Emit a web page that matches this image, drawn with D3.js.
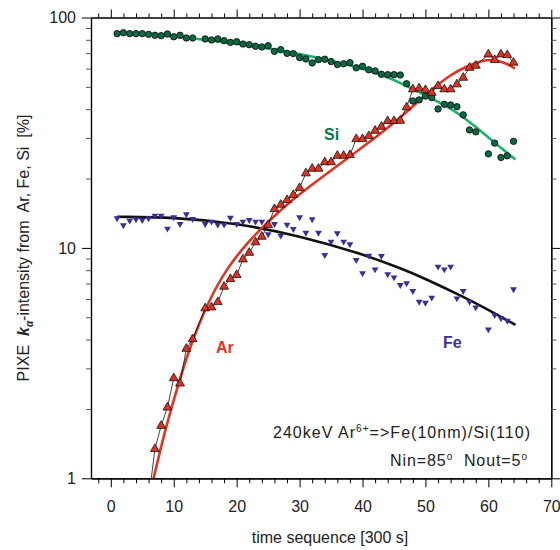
<!DOCTYPE html>
<html>
<head>
<meta charset="utf-8">
<script src="https://cdn.jsdelivr.net/npm/d3@7"></script>
<style>
  body { margin: 0; background: #fff; }
  text { font-family: "Liberation Sans", Arial, sans-serif; }
</style>
</head>
<body>
<svg id="chart" width="560" height="550"></svg>
<script>
// === Data ===
// time steps (t = 14 and t = 59 are missing in every series)
var timeSeq = [1, 2, 3, 4, 5, 6, 7, 8, 9, 10, 11, 12, 13,
    15, 16, 17, 18, 19, 20, 21, 22, 23, 24, 25, 26, 27, 28, 29, 30, 31, 32, 33, 34, 35, 36,
    37, 38, 39, 40, 41, 42, 43, 44, 45, 46, 47, 48, 49, 50, 51, 52, 53, 54, 55, 56, 57, 58,
    60, 61, 62, 63, 64];

var siValues = [85.1, 85.9, 85.1, 85.1, 85.1, 84.5, 83.7, 83.4, 84.8, 82.5, 83.7, 81.5, 81.5,
    80.7, 79.9, 80.7, 79.3, 78.0, 78.5, 76.7, 76.2, 75.0, 74.5, 75.4, 71.3, 72.5, 69.9, 69.7, 67.0,
    66.1, 63.5, 65.6, 65.9, 64.4, 62.5, 63.0, 63.7, 60.5, 61.4, 59.3, 58.6, 56.7, 56.5, 56.5, 56.3,
    51.6, 43.4, 43.9, 45.6, 44.9, 40.1, 42.0, 41.7, 41.0, 37.8, 32.5, 31.9,
    25.6, 28.5, 24.7, 25.1, 29.0];

var feValues = [13.44, 12.54, 13.13, 13.31, 13.22, 13.44, 13.80, 13.80, 12.12, 13.58, 12.70, 13.99, 13.35,
    12.70, 13.00, 12.61, 12.61, 13.52, 12.70, 13.00, 13.22, 13.00, 13.00, 11.46, 12.70, 11.30, 12.61,
    12.08, 13.58, 11.64, 13.31, 11.64, 9.31, 10.64, 11.57, 10.64, 10.37, 8.86, 7.76, 9.25, 8.07, 9.22,
    7.68, 7.45, 6.90, 7.02, 6.50, 5.84, 5.78, 6.08, 8.29, 8.07, 8.29, 6.04, 6.50, 5.84, 5.52,
    4.43, 5.11, 4.95, 4.83, 6.61];

// Ar starts at t = 6 (that first point lies below the axis)
var arTime = timeSeq.slice(5);
var arValues = [0.8, 1.34, 1.69, 2.03, 2.72, 2.58, 3.65, 4.02,
    5.47, 5.52, 5.82, 6.79, 7.33, 7.63, 8.92, 9.53, 10.58, 11.19, 12.57, 14.75, 15.40, 16.14, 16.97,
    18.2, 21.08, 22.07, 22.07, 23.55, 23.55, 25.13, 25.13, 25.31, 29.69, 29.69, 30.59, 32.26, 33.57,
    35.54, 35.54, 35.65, 40.76, 48.81, 49.29, 48.45, 47.16, 50.43, 48.81, 48.81, 51.30, 54.8, 60.5, 61.8,
    69.2, 65.4, 69.2, 68.7, 63.7];

// fitted curves
var siFitT = [1, 7, 14, 22, 29.7, 38.1, 43.4, 47.6, 50.3, 54, 56.6, 59.3, 62, 64.3];
var siFitV = [86, 84.3, 80.7, 75.8, 70, 62.2, 56.3, 49.6, 45.5, 40.4, 35.9, 31.4, 27.1, 24.2];

var arFitT = [6.3, 6.8, 8.5, 10, 12.2, 15.4, 18.5, 21.9, 25, 29, 35.4, 40.7, 46, 48.6, 51.3, 53.9, 56.6, 59.2, 60.8, 63, 64.2];
var arFitV = [0.88, 1.0, 1.57, 2.19, 3.5, 5.82, 8.22, 10.7, 13.0, 16.4, 22.1, 28.2, 36.7, 42.7, 49.5, 56.2, 61.7, 65.2, 65.8, 63.1, 60.0];

var feFitT = [1, 10, 20, 30, 40, 46, 50, 56, 60, 64.3];
var feFitV = [13.65, 13.6, 12.8, 11.3, 9.4, 8.17, 7.35, 6.14, 5.39, 4.63];

// axis ticks
var xTicks = [0, 10, 20, 30, 40, 50, 60, 70];
var yTicks = [1, 10, 100];

// === Chart ===
var svg = d3.select("#chart");

var x = d3.scaleLinear().domain([-3.15, 70]).range([91, 551.3]);
var y = d3.scaleLog().domain([1, 100]).range([478.3, 17.5]);

var xMinor = d3.range(-2, 70, 2).filter(function (d) { return d % 10 != 0; });
var yMinor = [2, 3, 4, 5, 6, 7, 8, 9, 20, 30, 40, 50, 60, 70, 80, 90];

svg.append("defs").append("clipPath").attr("id", "plot")
    .append("rect")
    .attr("x", x.range()[0]).attr("y", y.range()[1])
    .attr("width", x.range()[1] - x.range()[0])
    .attr("height", y.range()[0] - y.range()[1]);

function zip(ts, vs) {
    return ts.map(function (t, i) { return [t, vs[i]]; });
}

var line = d3.line()
    .x(function (d) { return x(d[0]); })
    .y(function (d) { return y(d[1]); });
var smooth = d3.line()
    .x(function (d) { return x(d[0]); })
    .y(function (d) { return y(d[1]); })
    .curve(d3.curveBasis);

var plot = svg.append("g").attr("clip-path", "url(#plot)");

// fits go underneath the markers
plot.append("path").datum(zip(feFitT, feFitV))
    .attr("d", smooth).attr("fill", "none").attr("stroke", "#111").attr("stroke-width", 2.6);
plot.append("path").datum(zip(siFitT, siFitV))
    .attr("d", smooth).attr("fill", "none").attr("stroke", "#19b36b").attr("stroke-width", 2.6);
plot.append("path").datum(zip(arFitT, arFitV))
    .attr("d", smooth).attr("fill", "none").attr("stroke", "#e5311f").attr("stroke-width", 2.6);

// Fe: down triangles
var triDown = d3.symbol().type(d3.symbolTriangle).size(20);
plot.selectAll(".fe").data(zip(timeSeq, feValues)).enter()
    .append("path").attr("class", "fe")
    .attr("d", triDown)
    .attr("transform", function (d) { return "translate(" + x(d[0]) + "," + y(d[1]) + ") rotate(180)"; })
    .attr("fill", "#3a2e9c");

// Si: circles
plot.selectAll(".si").data(zip(timeSeq, siValues)).enter()
    .append("circle").attr("class", "si")
    .attr("cx", function (d) { return x(d[0]); })
    .attr("cy", function (d) { return y(d[1]); })
    .attr("r", 3.2)
    .attr("fill", "#0a6a44").attr("stroke", "#111").attr("stroke-width", 0.9);

// Ar: thin connecting line + up triangles
plot.append("path").datum(zip(arTime, arValues))
    .attr("d", line).attr("fill", "none").attr("stroke", "#111").attr("stroke-width", 0.8);
var triUp = d3.symbol().type(d3.symbolTriangle).size(34);
plot.selectAll(".ar").data(zip(arTime, arValues)).enter()
    .append("path").attr("class", "ar")
    .attr("d", triUp)
    .attr("transform", function (d) { return "translate(" + x(d[0]) + "," + y(d[1]) + ")"; })
    .attr("fill", "#e2301f").attr("stroke", "#111").attr("stroke-width", 0.8);

// === Axes (all four sides, ticks outward) ===
function addAxis(axis, tx, ty) {
    var g = svg.append("g").attr("transform", "translate(" + tx + "," + ty + ")").call(axis);
    g.selectAll("path.domain").attr("stroke", "#000").attr("stroke-width", 1.2);
    g.selectAll(".tick line").attr("stroke", "#000");
    g.selectAll("text").attr("font-size", 16).attr("fill", "#222")
        .style("font-family", "'Liberation Sans', Arial, sans-serif");
    return g;
}

addAxis(d3.axisBottom(x).tickValues(xTicks).tickSize(9).tickSizeOuter(0).tickPadding(13)
    .tickFormat(d3.format("d")), 0, y.range()[0]);
addAxis(d3.axisBottom(x).tickValues(xMinor).tickSize(5).tickSizeOuter(0).tickFormat(""), 0, y.range()[0]);
addAxis(d3.axisTop(x).tickValues(xTicks).tickSize(8).tickSizeOuter(0).tickFormat(""), 0, y.range()[1]);
addAxis(d3.axisTop(x).tickValues(xMinor).tickSize(4).tickSizeOuter(0).tickFormat(""), 0, y.range()[1]);

addAxis(d3.axisLeft(y).tickValues(yTicks).tickSize(9).tickSizeOuter(0).tickPadding(6)
    .tickFormat(d3.format("d")), x.range()[0], 0);
addAxis(d3.axisLeft(y).tickValues(yMinor).tickSize(5).tickSizeOuter(0).tickFormat(""), x.range()[0], 0)
    .selectAll(".tick line").attr("stroke", "#555");
addAxis(d3.axisRight(y).tickValues(yTicks).tickSize(9).tickSizeOuter(0).tickFormat(""), x.range()[1], 0);
addAxis(d3.axisRight(y).tickValues(yMinor).tickSize(5).tickSizeOuter(0).tickFormat(""), x.range()[1], 0)
    .selectAll(".tick line").attr("stroke", "#555");

// === Texts ===
svg.append("text")
    .attr("x", 330).attr("y", 543)
    .attr("text-anchor", "middle").attr("font-size", 16).attr("fill", "#222")
    .text("time sequence [300 s]");

var yTitle = svg.append("text")
    .attr("transform", "translate(29,248) rotate(-90)")
    .attr("text-anchor", "middle").attr("font-size", 16).attr("fill", "#222")
    .attr("xml:space", "preserve");
yTitle.append("tspan").text("PIXE  ");
yTitle.append("tspan").attr("font-weight", "bold").attr("font-style", "italic").text("k");
yTitle.append("tspan").attr("font-weight", "bold").attr("font-style", "italic")
    .attr("font-size", 10).attr("dy", 4).text("α");
yTitle.append("tspan").attr("dy", -4).text("-intensity from  Ar, Fe, Si  [%]");

var note1 = svg.append("text").attr("x", 273).attr("y", 438)
    .attr("font-size", 16).attr("fill", "#222")
    .attr("textLength", 257).attr("lengthAdjust", "spacing");
note1.append("tspan").text("240keV Ar");
note1.append("tspan").attr("font-size", 10).attr("dy", -6).text("6+");
note1.append("tspan").attr("dy", 6).text("=>Fe(10nm)/Si(110)");

var note2 = svg.append("text").attr("x", 390).attr("y", 466)
    .attr("font-size", 16).attr("fill", "#222")
    .attr("textLength", 137).attr("lengthAdjust", "spacing")
    .attr("xml:space", "preserve");
note2.append("tspan").text("Nin=85");
note2.append("tspan").attr("font-size", 10).attr("dy", -6).text("o");
note2.append("tspan").attr("dy", 6).text("  Nout=5");
note2.append("tspan").attr("font-size", 10).attr("dy", -6).text("o");

svg.append("text").attr("x", 324).attr("y", 140)
    .attr("font-size", 16).attr("font-weight", "bold").attr("fill", "#0b7a4c").text("Si");
svg.append("text").attr("x", 216).attr("y", 353)
    .attr("font-size", 16).attr("font-weight", "bold").attr("fill", "#e5311f").text("Ar");
svg.append("text").attr("x", 443).attr("y", 348)
    .attr("font-size", 16).attr("font-weight", "bold").attr("fill", "#3d3197").text("Fe");
</script>
</body>
</html>
